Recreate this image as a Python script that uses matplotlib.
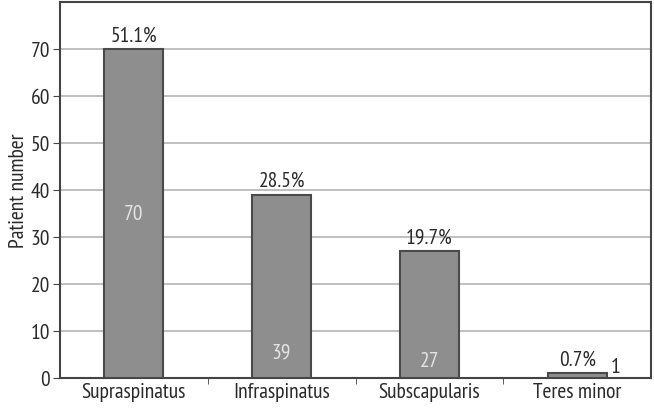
import matplotlib.pyplot as plt

muscles = ['Supraspinatus', 'Infraspinatus', 'Subscapularis', 'Teres minor']
counts = [70, 39, 27, 1]
percents = ['51.1%', '28.5%', '19.7%', '0.7%']

plt.rcParams['font.family'] = ['PT Sans Narrow', 'DejaVu Sans']
plt.rcParams['font.size'] = 15.5

fig = plt.figure(figsize=(6.54, 4.14), dpi=100)
ax = fig.add_axes([60/654, 35/414, 591/654, 376/414])

x = range(len(muscles))
bars = ax.bar(x, counts, width=0.4, color='#8e8e8e', edgecolor='#4a4a4a', linewidth=1.5, zorder=3)

ax.set_xlim(-0.5, 3.5)
ax.set_ylim(0, 80)
ax.set_yticks(range(0, 80, 10))
ax.yaxis.grid(True, color='#b4b4b4', linewidth=1.2, zorder=0)

ax.set_xticks(list(x))
ax.set_xticklabels(muscles, color='#2a2a2a')
ax.tick_params(axis='x', length=0, pad=3)
ax.set_xticks([0.5, 1.5, 2.5], minor=True)
ax.tick_params(axis='x', which='minor', length=4, color='#444444')
ax.tick_params(axis='y', length=5, color='#444444', labelcolor='#2a2a2a', pad=2)
ax.set_ylabel('Patient number', color='#2a2a2a', labelpad=2)

for s in ax.spines.values():
    s.set_color('#444444')
    s.set_linewidth(1.5)

# percentages above bars
for i in range(len(muscles)):
    ax.text(i, counts[i] + 1.0, percents[i], ha='center', va='bottom', color='#2a2a2a')

# counts inside bars
inner_y = [35, 5.5, 3.8, 2.5]
for i in range(3):
    ax.text(i, inner_y[i], str(counts[i]), ha='center', va='center', color='#e4e4e4')
ax.text(3.26, inner_y[3], str(counts[3]), ha='center', va='center', color='#2a2a2a')

fig.savefig('out.png', dpi=100)
